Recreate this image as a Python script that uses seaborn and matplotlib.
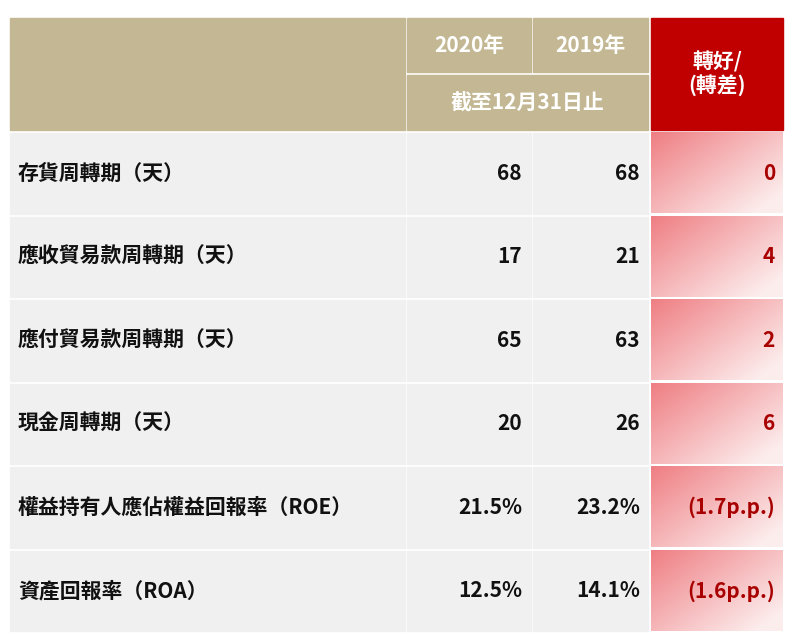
import numpy as np
import matplotlib
matplotlib.use("Agg")
import matplotlib.pyplot as plt
import seaborn as sns
from matplotlib.patches import Rectangle

sns.set_theme(style="white")
plt.rcParams["font.family"] = ["Noto Sans CJK JP", "Noto Sans CJK TC", "Noto Sans CJK SC", "DejaVu Sans"]

# --- data ---
metrics = ["存貨周轉期（天）", "應收貿易款周轉期（天）", "應付貿易款周轉期（天）",
           "現金周轉期（天）", "權益持有人應佔權益回報率（ROE）", "資產回報率（ROA）"]
values_2020 = ["68", "17", "65", "20", "21.5%", "12.5%"]
values_2019 = ["68", "21", "63", "26", "23.2%", "14.1%"]
change = ["0", "4", "2", "6", "(1.7p.p.)", "(1.6p.p.)"]
col_headers = ["2020年", "2019年"]
sub_header = "截至12月31日止"
change_header = "轉好/\n(轉差)"

W, H = 793, 634
fig = plt.figure(figsize=(W / 100, H / 100), dpi=100)
ax = fig.add_axes([0, 0, 1, 1])
ax.set_xlim(0, W)
ax.set_ylim(H, 0)
ax.axis("off")

tan = "#c4b894"
red = "#c00000"
gray = "#f0f0f0"
cols = [(10, 405), (407, 531), (533, 648), (651, 783)]

# header
ax.add_patch(Rectangle((10, 18), 395, 112, color=tan))
ax.add_patch(Rectangle((407, 18), 124, 54, color=tan))
ax.add_patch(Rectangle((533, 18), 115, 54, color=tan))
ax.add_patch(Rectangle((407, 75), 241, 55, color=tan))
ax.add_patch(Rectangle((651, 18), 132, 112, color=red))
hdr = dict(color="white", fontsize=15, fontweight="bold", ha="center", va="center")
ax.text(469, 46, col_headers[0], **hdr)
ax.text(590, 46, col_headers[1], **hdr)
ax.text(527, 103, sub_header, **hdr)
ax.text(717, 74, change_header, linespacing=1.1, **hdr)

# gradient for change column
gx = np.linspace(0, 1, 60)
gy = np.linspace(0, 1, 40)
GX, GY = np.meshgrid(gx, gy)
t = np.clip(1 - (0.6 * (1 - GX) + 0.5 * (1 - GY)) / 1.1 + 0.1, 0, 1)
c0 = np.array([0.93, 0.45, 0.47])
c1 = np.array([0.99, 0.93, 0.93])
grad = c0 + (c1 - c0) * t[..., None]

row_top, row_h = 133, 83.5
for i, m in enumerate(metrics):
    y0 = row_top + i * row_h
    h = row_h - 3
    for (a, b) in cols[:3]:
        ax.add_patch(Rectangle((a, y0), b - a, h, color=gray))
    a, b = cols[3]
    ax.imshow(grad, extent=(a, b, y0 + h, y0), aspect="auto", zorder=1)
    yc = y0 + h / 2
    ax.text(18, yc, m, fontsize=15, fontweight="bold", color="#111111", va="center", ha="left")
    ax.text(522, yc, values_2020[i], fontsize=15, fontweight="bold", color="#111111", va="center", ha="right")
    ax.text(640, yc, values_2019[i], fontsize=15, fontweight="bold", color="#111111", va="center", ha="right")
    ax.text(775, yc, change[i], fontsize=15, fontweight="bold", color="#a80000", va="center", ha="right", zorder=3)

fig.savefig("out.png", dpi=100)
